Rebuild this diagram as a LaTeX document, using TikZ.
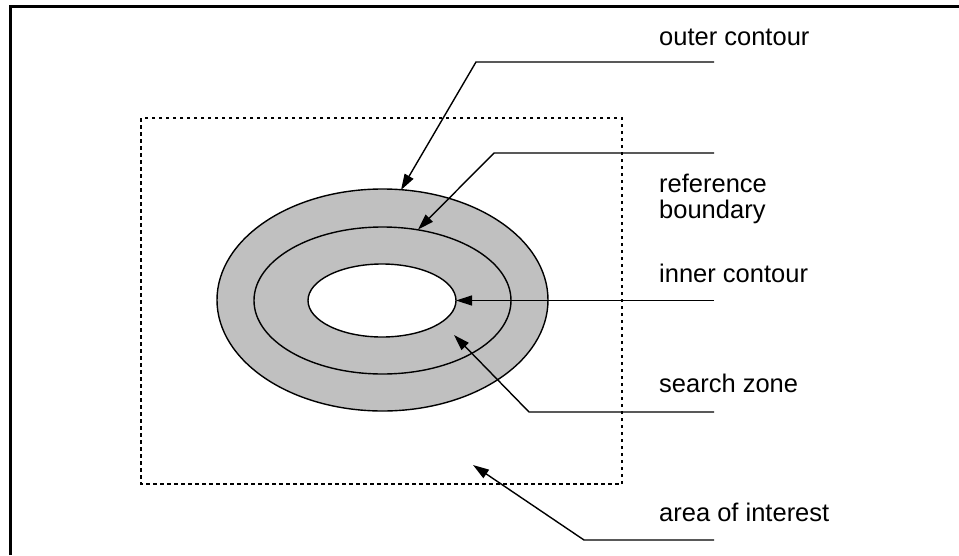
\documentclass[tikz,border=0pt]{standalone}
\usepackage{fontspec}
\setmainfont{Liberation Sans}
\usetikzlibrary{arrows.meta}
\definecolor{zonegray}{RGB}{192,192,192}

\tikzset{
  contour/.style={draw,line width=1.4pt},
  leader/.style={line width=1.4pt,-{Triangle[length=16pt,width=10pt]}},
  lbl/.style={anchor=base west,inner sep=0pt,font=\fontsize{25.5}{26}\selectfont,align=left}
}

\begin{document}
\begin{tikzpicture}[x=1pt,y=-1pt]
      \useasboundingbox (0,0) rectangle (959,555);
      \draw[line width=3pt] (10,555) -- (10,6.5) -- (959,6.5);
      \draw[line width=1.4pt,dash pattern=on 3.5pt off 3.5pt] (141,118) rectangle (622,484);
      \draw[contour,fill=zonegray] (382.5,300) ellipse [x radius=165.5,y radius=111];
      \draw[contour] (382.5,300.5) ellipse [x radius=128.5,y radius=73.5];
      \draw[contour,fill=white] (382,300.5) ellipse [x radius=74,y radius=36.5];
      \node[lbl] (oc) at (659,45) {outer contour};
      \node[lbl] (rb) at (659,218.3) {reference\\boundary};
      \node[lbl] (ic) at (659,282.3) {inner contour};
      \node[lbl] (sz) at (659,392.7) {search zone};
      \node[lbl] (ai) at (659,521.7) {area of interest};
      \path
        (714,62) coordinate (ocend) (476,62) coordinate (ocbend) (401,190) coordinate (octip)
        (714,153) coordinate (rbend) (494,153) coordinate (rbbend) (418,229.5) coordinate (rbtip)
        (714,300.5) coordinate (icend) (456,300.5) coordinate (ictip)
        (714,412) coordinate (szend) (529,412) coordinate (szbend) (454,335) coordinate (sztip)
        (714,540) coordinate (aiend) (584,540) coordinate (aibend) (473,465) coordinate (aitip);
      \draw[leader] (ocend) -- (ocbend) -- (octip);
      \draw[leader] (rbend) -- (rbbend) -- (rbtip);
      \draw[leader] (icend) -- (ictip);
      \draw[leader] (szend) -- (szbend) -- (sztip);
      \draw[leader] (aiend) -- (aibend) -- (aitip);
\end{tikzpicture}
\end{document}
